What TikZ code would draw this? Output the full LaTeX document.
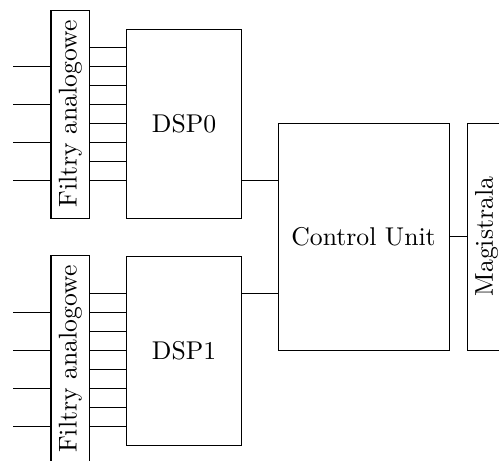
\documentclass[tikz,border=0pt]{standalone}
\usepackage{tikz}
\usetikzlibrary{positioning, calc}

\begin{document}
\begin{tikzpicture}[
  blok/.style={draw, minimum width=1.56cm, minimum height=2.585cm, align=center},
  filtr/.style={draw, inner sep=1pt, minimum width=0.533cm, minimum height=2.845cm},
]
  \useasboundingbox (0,0) rectangle (6.826,-6.306);

  \node[filtr] (filtr0) at (0.964, -1.56) {\rotatebox{90}{Filtry analogowe}};
  \node[blok] (dsp0) at (2.517, -1.69) {DSP0};
  \node[filtr] (filtr1) at (0.964, -4.912) {\rotatebox{90}{Filtry analogowe}};
  \node[blok] (dsp1) at (2.517, -4.795) {DSP1};
  \node[draw, minimum width=2.339cm, minimum height=3.105cm] (cu) at (4.973, -3.236) {Control Unit};
  \node[filtr, minimum height=3.105cm] (mag) at (6.655, -3.236) {\rotatebox{90}{Magistrala}};

  % linie miedzy filtrami a DSP
  \foreach \i in {1,...,8} {
    \path (dsp0.north west) ++(0,-0.26*\i) coordinate (d0in\i);
    \draw (d0in\i) -- (d0in\i -| filtr0.east);
  }
  \foreach \i in {2,...,9} {
    \path (dsp1.north west) ++(0,-0.26*\i) coordinate (d1in\i);
    \draw (d1in\i) -- (d1in\i -| filtr1.east);
  }
  % wejscia
  \foreach \i in {2,4,6,8} {
    \draw (d0in\i -| filtr0.west) -- ++(-0.51,0);
  }
  \foreach \i in {3,5,7,9} {
    \draw (d1in\i -| filtr1.west) -- ++(-0.51,0);
  }

  \draw (d0in8 -| dsp0.east) -- (d0in8 -| cu.west);
  \draw (d1in2 -| dsp1.east) -- (d1in2 -| cu.west);
  \draw (cu.east) -- (cu.east -| mag.west);
\end{tikzpicture}
\end{document}
